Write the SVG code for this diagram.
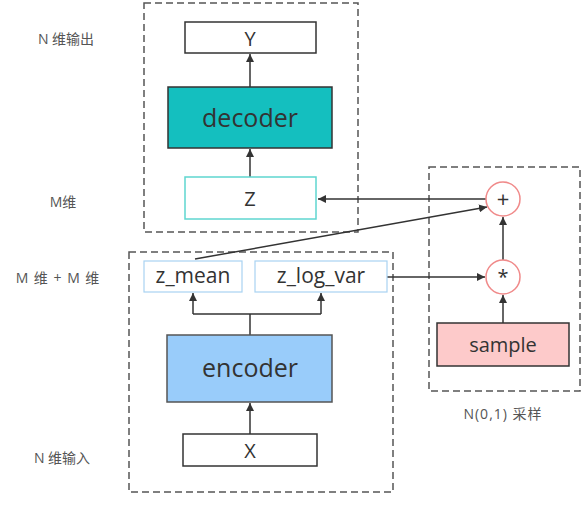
<svg xmlns="http://www.w3.org/2000/svg" width="588" height="512" viewBox="0 0 588 512">
<defs>
<style>
.lbl{font-family:"Open Sans","Noto Sans CJK SC",sans-serif;font-size:14px;fill:#555;text-anchor:middle;dominant-baseline:central}
.t{font-family:"Open Sans","Noto Sans CJK SC",sans-serif;fill:#333;text-anchor:middle;dominant-baseline:central}
.grp{fill:none;stroke:#555;stroke-width:1.5;stroke-dasharray:7,4}
.c{fill:none;stroke:#333;stroke-width:1.5}
</style>
<marker id="ahb" viewBox="0 0 10 10" refX="10" refY="5" markerWidth="8" markerHeight="8" orient="auto" markerUnits="userSpaceOnUse">
<path d="M0,0 L10,5 L0,10 z" fill="#333"/>
</marker>
</defs>
<rect width="588" height="512" fill="#fff"/>
<g id="groups">
<rect class="grp" x="144" y="3" width="214" height="229"/>
<rect class="grp" x="129" y="252" width="264" height="240"/>
<rect class="grp" x="429" y="167" width="151" height="224"/>
</g>
<g id="labels">
<text class="lbl" x="66" y="38">N 维输出</text>
<text class="lbl" x="63" y="201">M维</text>
<text class="lbl" x="58" y="277" letter-spacing="1">M 维 + M 维</text>
<text class="lbl" x="62" y="457">N 维输入</text>
<text class="lbl" x="503" y="413" font-size="15" letter-spacing="1">N(0,1) 采样</text>
</g>
<g id="connectors">
<line class="c" x1="250" y1="87" x2="250" y2="54" marker-end="url(#ahb)"/>
<line class="c" x1="250" y1="177" x2="250" y2="149" marker-end="url(#ahb)"/>
<line class="c" x1="486" y1="199" x2="318" y2="199" marker-end="url(#ahb)"/>
<line class="c" x1="195" y1="259" x2="487" y2="207" marker-end="url(#ahb)"/>
<line class="c" x1="387" y1="277" x2="485" y2="277" marker-end="url(#ahb)"/>
<line class="c" x1="503" y1="260" x2="503" y2="217" marker-end="url(#ahb)"/>
<line class="c" x1="503" y1="323" x2="503" y2="295" marker-end="url(#ahb)"/>
<polyline class="c" points="250,335 250,314"/>
<polyline class="c" points="193,314 321,314"/>
<line class="c" x1="193" y1="314" x2="193" y2="293" marker-end="url(#ahb)"/>
<line class="c" x1="321" y1="314" x2="321" y2="293" marker-end="url(#ahb)"/>
<line class="c" x1="250" y1="434" x2="250" y2="403" marker-end="url(#ahb)"/>
</g>
<g id="node-Y">
<rect x="185" y="22" width="131" height="31" fill="#fff" stroke="#333" stroke-width="1.5"/>
<text class="t" x="250" y="38" font-size="20">Y</text>
</g>
<g id="node-decoder">
<rect x="168" y="87" width="164" height="61" fill="#14bfbf" stroke="#333" stroke-width="1.5"/>
<text class="t" x="250" y="117" font-size="25" fill="#1f4f5f">decoder</text>
</g>
<g id="node-Z">
<rect x="185" y="177" width="131" height="42" fill="#fff" stroke="#5fd6d0" stroke-width="1.5"/>
<text class="t" x="250" y="198" font-size="20">Z</text>
</g>
<g id="node-z_mean">
<rect x="144" y="261" width="98" height="31" fill="#fff" stroke="#a9d3f2" stroke-width="1.2"/>
<text class="t" x="193" y="275" font-size="21">z_mean</text>
</g>
<g id="node-z_log_var">
<rect x="255" y="261" width="132" height="31" fill="#fff" stroke="#a9d3f2" stroke-width="1.2"/>
<text class="t" x="321" y="275" font-size="21">z_log_var</text>
</g>
<g id="node-encoder">
<rect x="167" y="335" width="165" height="67" fill="#99ccfa" stroke="#555" stroke-width="1.5"/>
<text class="t" x="250" y="367" font-size="25" fill="#2a4a68">encoder</text>
</g>
<g id="node-X">
<rect x="183" y="434" width="134" height="32" fill="#fff" stroke="#333" stroke-width="1.5"/>
<text class="t" x="250" y="450" font-size="20">X</text>
</g>
<g id="node-plus">
<circle cx="503" cy="199" r="17" fill="#fff" stroke="#f08a8a" stroke-width="1.5"/>
<text class="t" x="503" y="198" font-size="22">+</text>
</g>
<g id="node-mul">
<circle cx="503" cy="277" r="17" fill="#fff" stroke="#f08a8a" stroke-width="1.5"/>
<text class="t" x="503" y="276" font-size="20">*</text>
</g>
<g id="node-sample">
<rect x="437" y="323" width="132" height="43" fill="#fdcaca" stroke="#333" stroke-width="1.5"/>
<text class="t" x="503" y="344" font-size="20">sample</text>
</g>
</svg>
